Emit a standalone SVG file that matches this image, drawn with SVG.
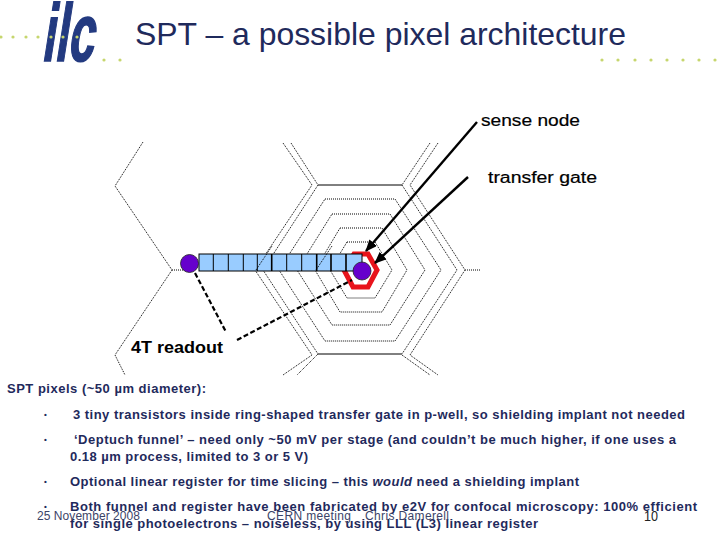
<svg xmlns="http://www.w3.org/2000/svg" width="720" height="540" viewBox="0 0 720 540">
<style>
text{font-family:"Liberation Sans",Arial,sans-serif}
.dot{fill:#c6d66e}
.d{fill:none;stroke:#000;stroke-width:1;stroke-dasharray:1 1}
.s{fill:none;stroke:#000;stroke-width:1}
.b{font-size:13px;font-weight:bold;fill:#1f2a5c}
.bu{font-size:8px;font-weight:bold;fill:#1f2a5c}
.f{font-size:12px;fill:#3c4468}
.l{font-size:16px;fill:#000;stroke:#000;stroke-width:.2}
.cell{fill:none;stroke:#000;stroke-width:1}
.thick{stroke-width:1.6}
.ar{stroke:#000;stroke-width:2.4;fill:none;marker-end:url(#ah)}
.ds{stroke:#000;stroke-width:2.2;fill:none;stroke-dasharray:5 2.5}
</style>
<defs><marker id="ah" markerUnits="userSpaceOnUse" markerWidth="12" markerHeight="10" refX="11" refY="5" orient="auto"><path d="M0 0L12 5L0 10z" fill="#000"/></marker></defs>
<rect width="720" height="540" fill="#fff"/>
<g id="logo">
<text transform="translate(41 61) skewX(-9) scale(.78 1.36)" font-size="60" font-weight="bold" fill="#233a80" stroke="#233a80" stroke-width="1.2">ilc</text>
<g class="dot"><circle cx="1" cy="37" r="1.6"/><circle cx="13" cy="37" r="1.6"/><circle cx="26" cy="37" r="1.6"/><circle cx="38" cy="37" r="1.6"/><circle cx="51" cy="37" r="1.6"/><circle cx="63" cy="37" r="1.6"/><circle cx="77" cy="37" r="1.6"/><circle cx="104" cy="60" r="1.6"/><circle cx="120" cy="60" r="1.6"/>
<circle cx="602" cy="60" r="1.6"/><circle cx="618" cy="60" r="1.6"/><circle cx="635" cy="60" r="1.6"/><circle cx="651" cy="60" r="1.6"/><circle cx="667" cy="60" r="1.6"/><circle cx="683" cy="60" r="1.6"/><circle cx="699" cy="60" r="1.6"/><circle cx="715" cy="60" r="1.6"/></g>
</g>
<text id="title" x="135" y="45" font-size="32" fill="#1f2a5c" textLength="491" lengthAdjust="spacingAndGlyphs">SPT – a possible pixel architecture</text>
<g id="hexagons">
<path class="d" d="M143 142L115 186L172 270L115 355L125 375M172 270H190"/>
<path class="d" d="M283 143L312 185L255 270L312 355L283 375"/>
<path class="d" d="M291 143L318 185M430 143L402 185M438 143L410 185L465 270L410 355L438 375M465 270H480M402 355L430 375M318 354L297 375"/>
<path class="d" d="M318 185L263 270L318 354M402 185L457 270L402 354"/>
<path class="s" d="M318 185H402M318 354H402"/>
<path class="d" d="M325 199H395L441 270L395 341H325L279 270Z"/>
<path class="d" d="M332 214H390L425 270L390 325H332L297 270Z"/>
<path class="d" d="M340 228H382L407 270L382 312H340L315 270Z"/>
<path class="d" d="M347 242H375L392 270L375 298H347L330 270Z"/>
</g>
<g id="transfer-gate"><path d="M354 254H368L377 270L368 287H353L344 270Z" fill="none" stroke="#e8141c" stroke-width="5"/></g>
<g id="register">
<rect x="199" y="254" width="163" height="17" fill="#99ccff" stroke="#000" stroke-width="1"/>
<path class="cell" d="M213.3 254v17M228.3 254v17M243.3 254v17M257.3 254v17M286.7 254v17M301.7 254v17"/>
<path class="cell thick" d="M271.7 254v17M316.7 254v17M331 254v17M346 254v17"/>
<path class="d" d="M256 270L272 246M332 246L316 270"/>
</g>
<g id="sense-dot"><circle cx="362" cy="271" r="9" fill="#6600cc" stroke="#222" stroke-width=".8"/></g>
<g id="readout-dot"><circle cx="189.5" cy="263.5" r="9" fill="#6600cc" stroke="#222" stroke-width=".8"/></g>
<g id="connectors">
<path class="ar" d="M477 122L366 251"/>
<path class="ar" d="M468 177L375 263"/>
<path class="ds" d="M195 273L226 332"/>
<path class="ds" d="M237 340L352 280"/>
</g>
<g id="labels">
<text class="l" x="481" y="126" textLength="99" lengthAdjust="spacingAndGlyphs">sense node</text>
<text class="l" x="488" y="183" textLength="109" lengthAdjust="spacingAndGlyphs">transfer gate</text>
<text x="131" y="353" font-size="17" font-weight="bold" textLength="92" lengthAdjust="spacingAndGlyphs">4T readout</text>
</g>
<g id="body">
<text class="b" x="7" y="393" textLength="199">SPT pixels (~50 µm diameter):</text>
<text class="bu" x="44" y="417">•</text><text class="bu" x="44" y="442">•</text><text class="bu" x="44" y="484">•</text><text class="bu" x="44" y="509">•</text>
<text class="b" x="73" y="419" textLength="612">3 tiny transistors inside ring-shaped transfer gate in p-well, so shielding implant not needed</text>
<text class="b" x="74" y="444" textLength="602">‘Deptuch funnel’ – need only ~50 mV per stage (and couldn’t be much higher, if one uses a</text>
<text class="b" x="70" y="461" textLength="238">0.18 µm process, limited to 3 or 5 V)</text>
<text class="b" x="70" y="486" textLength="509">Optional linear register for time slicing – this <tspan font-style="italic">would</tspan> need a shielding implant</text>
<text class="b" x="70" y="511" textLength="627">Both funnel and register have been fabricated by e2V for confocal microscopy:  100%  efficient</text>
<text class="b" x="70" y="528" textLength="468">for single photoelectrons – noiseless, by using LLL (L3) linear register</text>
</g>
<g id="footer">
<text class="f" x="37" y="520" textLength="103">25 November 2008</text>
<text class="f" x="267" y="520" textLength="84">CERN meeting</text>
<text class="f" x="365" y="520" textLength="84">Chris Damerell</text>
<text x="644" y="521" font-size="15" fill="#222" textLength="14" lengthAdjust="spacingAndGlyphs">10</text>
</g>
</svg>
